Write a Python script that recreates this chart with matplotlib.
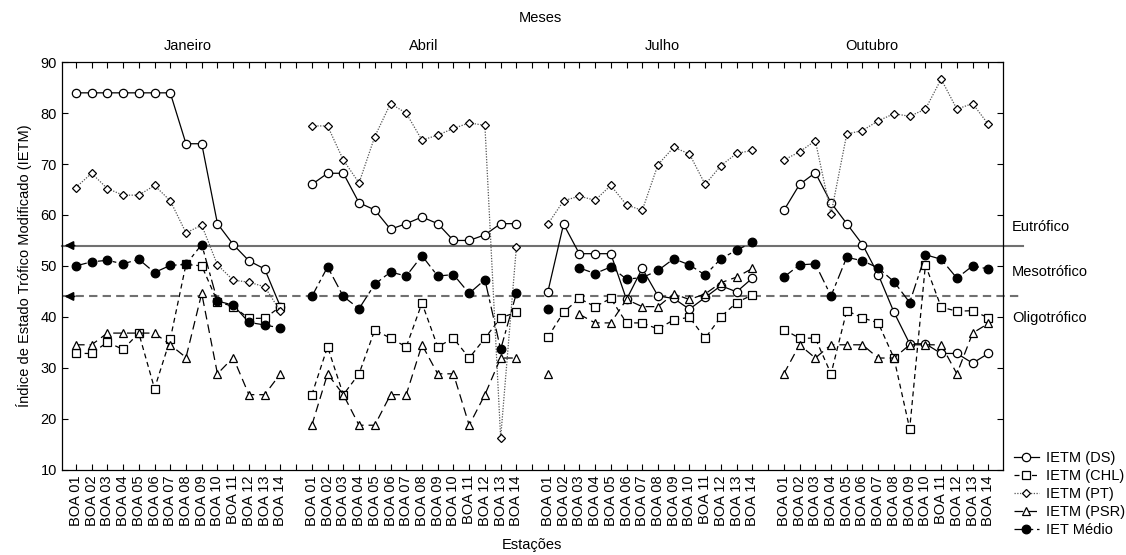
import numpy as np
import matplotlib
matplotlib.use('Agg')
import matplotlib.pyplot as plt
from matplotlib.transforms import blended_transform_factory

plt.rcParams['font.family'] = ['Liberation Sans', 'DejaVu Sans']
plt.rcParams['font.size'] = 10.5

nan = np.nan
months = ['Janeiro', 'Abril', 'Julho', 'Outubro']
stations = ['BOA %02d' % i for i in range(1, 15)]

# one row per month (Jan, Abr, Jul, Out), 14 stations each
ds = [[84, 84, 84, 84, 84, 84, 84, 74, 74, 58.3, 54.2, 51.0, 49.4, 42.0],
      [66.0, 68.2, 68.2, 62.4, 61.0, 57.2, 58.3, 59.6, 58.3, 55.0, 55.0, 56.1, 58.3, 58.3],
      [44.9, 58.2, 52.4, 52.4, 52.4, 43.4, 49.5, 44.1, 43.6, 41.5, 43.8, 46.1, 44.9, 47.6],
      [60.9, 66.0, 68.3, 62.4, 58.3, 54.2, 48.3, 40.9, 34.7, 34.7, 32.8, 32.8, 30.9, 32.8]]
chl = [[32.8, 32.8, 35.0, 33.6, 36.8, 25.9, 35.6, 50.3, 50.0, 43.0, 42.0, 39.7, 39.7, 42.0],
       [24.7, 34.1, 24.7, 28.8, 37.4, 35.8, 34.1, 42.7, 34.1, 35.8, 31.9, 35.8, 39.8, 40.9],
       [36.0, 40.9, 43.6, 42.0, 43.6, 38.8, 38.8, 37.6, 39.4, 39.9, 35.8, 40.0, 42.8, 44.3],
       [37.5, 35.8, 35.8, 28.8, 41.2, 39.8, 38.8, 31.9, 18.0, 50.2, 41.9, 41.1, 41.2, 39.8]]
pt = [[65.4, 68.2, 65.2, 63.9, 63.9, 65.8, 62.8, 56.5, 58.0, 50.2, 47.2, 46.8, 45.9, 41.1],
      [77.5, 77.5, 70.8, 66.3, 75.4, 81.9, 80.0, 74.7, 75.7, 77.0, 78.1, 77.6, 16.2, 53.7],
      [58.2, 62.8, 63.7, 62.9, 65.8, 62.0, 60.9, 69.9, 73.3, 72.0, 66.0, 69.7, 72.1, 72.7],
      [70.8, 72.4, 74.6, 60.2, 75.9, 76.6, 78.5, 79.9, 79.4, 80.8, 86.7, 80.8, 81.9, 77.8]]
psr = [[34.5, 34.5, 36.8, 36.8, 36.8, 36.8, 34.5, 32.0, 44.6, 28.8, 32.0, 24.7, 24.7, 28.8],
       [18.7, 28.8, 24.7, 18.7, 18.7, 24.7, 24.7, 34.5, 28.8, 28.8, 18.7, 24.7, 31.9, 31.9],
       [28.8, nan, 40.5, 38.8, 38.8, 43.4, 42.0, 42.0, 44.5, 43.4, 44.5, 46.7, 47.8, 49.5],
       [28.8, 34.5, 31.9, 34.5, 34.5, 34.5, 31.9, 31.9, 34.5, 34.5, 34.5, 28.8, 36.8, 38.7]]
medio = [[50.0, 50.8, 51.1, 50.4, 51.3, 48.7, 50.1, 50.3, 54.2, 43.1, 42.3, 38.9, 38.4, 37.8],
         [44.0, 49.8, 44.0, 41.6, 46.4, 48.8, 48.0, 52.0, 48.0, 48.3, 44.6, 47.3, 33.6, 44.6],
         [41.5, nan, 49.6, 48.5, 49.8, 47.4, 47.7, 49.1, 51.4, 50.2, 48.2, 51.4, 53.1, 54.6],
         [47.8, 50.2, 50.4, 44.1, 51.7, 51.0, 49.6, 46.9, 42.8, 52.2, 51.3, 47.6, 50.0, 49.4]]

eutrofico = 54
oligotrofico = 44
month_label_pos = [7.1, 22.1, 37.3, 50.6]

series = [
    ('IETM (DS)', ds, dict(ls='-', marker='o', mfc='white', ms=6, color='black')),
    ('IETM (CHL)', chl, dict(ls=(0, (4, 3)), marker='s', mfc='white', ms=5.7, color='black')),
    ('IETM (PT)', pt, dict(ls=(0, (1, 1.2)), marker='D', mfc='white', ms=4.5, color='#555555')),
    ('IETM (PSR)', psr, dict(ls=(0, (7, 4)), marker='^', mfc='white', ms=6.3, color='black')),
    ('IET Médio', medio, dict(ls=(0, (9, 3, 3, 3)), marker='o', mfc='black', ms=6.2, color='black')),
]

fig = plt.figure(figsize=(11.26, 5.55), dpi=100)
ax = fig.add_axes([61.7 / 1126, 1 - 469.5 / 555, (1003.3 - 61.7) / 1126, (469.5 - 62.3) / 555])

n = len(stations)
handles = []
for name, data, style in series:
    for m in range(len(months)):
        x = np.arange(n) + m * (n + 1)
        line, = ax.plot(x, data[m], lw=0.9, mec='black', mew=0.9, label=name if m == 0 else None, **style)
        if m == 0:
            handles.append(line)

# trophic thresholds
xr = 60.2
ax.plot([-0.9, xr], [eutrofico, eutrofico], color='#707070', lw=1.5, clip_on=False, zorder=1)
ax.plot([-0.9, xr], [oligotrofico, oligotrofico], color='#707070', lw=1.5, ls=(0, (4, 2.5)),
        clip_on=False, zorder=1)
for yv in (eutrofico, oligotrofico):
    ax.annotate('', xy=(-0.9, yv), xytext=(0.1, yv),
                arrowprops=dict(arrowstyle='-|>', color='black', lw=1.2, mutation_scale=13))
for txt, yv in [('Eutrófico', 57.6), ('Mesotrófico', 48.8), ('Oligotrófico', 39.8)]:
    ax.text(59.5, yv, txt, ha='left', va='center', clip_on=False)

ticks = np.arange(4 * n + 3)
labels = []
for t in ticks:
    labels.append(stations[t % (n + 1)] if t % (n + 1) < n else '')
ax.set_xticks(ticks)
ax.set_xticklabels(labels, rotation=90)
ax.set_xlim(-0.9, 58.95)
ax.set_ylim(10, 90)
ax.set_yticks(np.arange(10, 91, 10))
ax.tick_params(direction='in', top=True, right=True, length=4, width=0.8)
ax.tick_params(axis='x', pad=4)
for sp in ax.spines.values():
    sp.set_linewidth(0.9)

trans = blended_transform_factory(ax.transData, ax.transAxes)
for mname, xp in zip(months, month_label_pos):
    ax.text(xp, 1.04, mname, ha='center', va='center', transform=trans)
ax.text(29.5, 1.109, 'Meses', ha='center', va='center', transform=trans)
ax.text(29.0, -0.185, 'Estações', ha='center', va='center', transform=trans)
ax.set_ylabel('Índice de Estado Trófico Modificado (IETM)', labelpad=6)

fig.legend(handles=handles, loc='upper left', bbox_to_anchor=(1014 / 1126, 1 - 451 / 555),
           frameon=False, handlelength=1.7, handletextpad=0.5, labelspacing=0.28,
           borderpad=0, borderaxespad=0)

fig.savefig('out.png', dpi=100)
